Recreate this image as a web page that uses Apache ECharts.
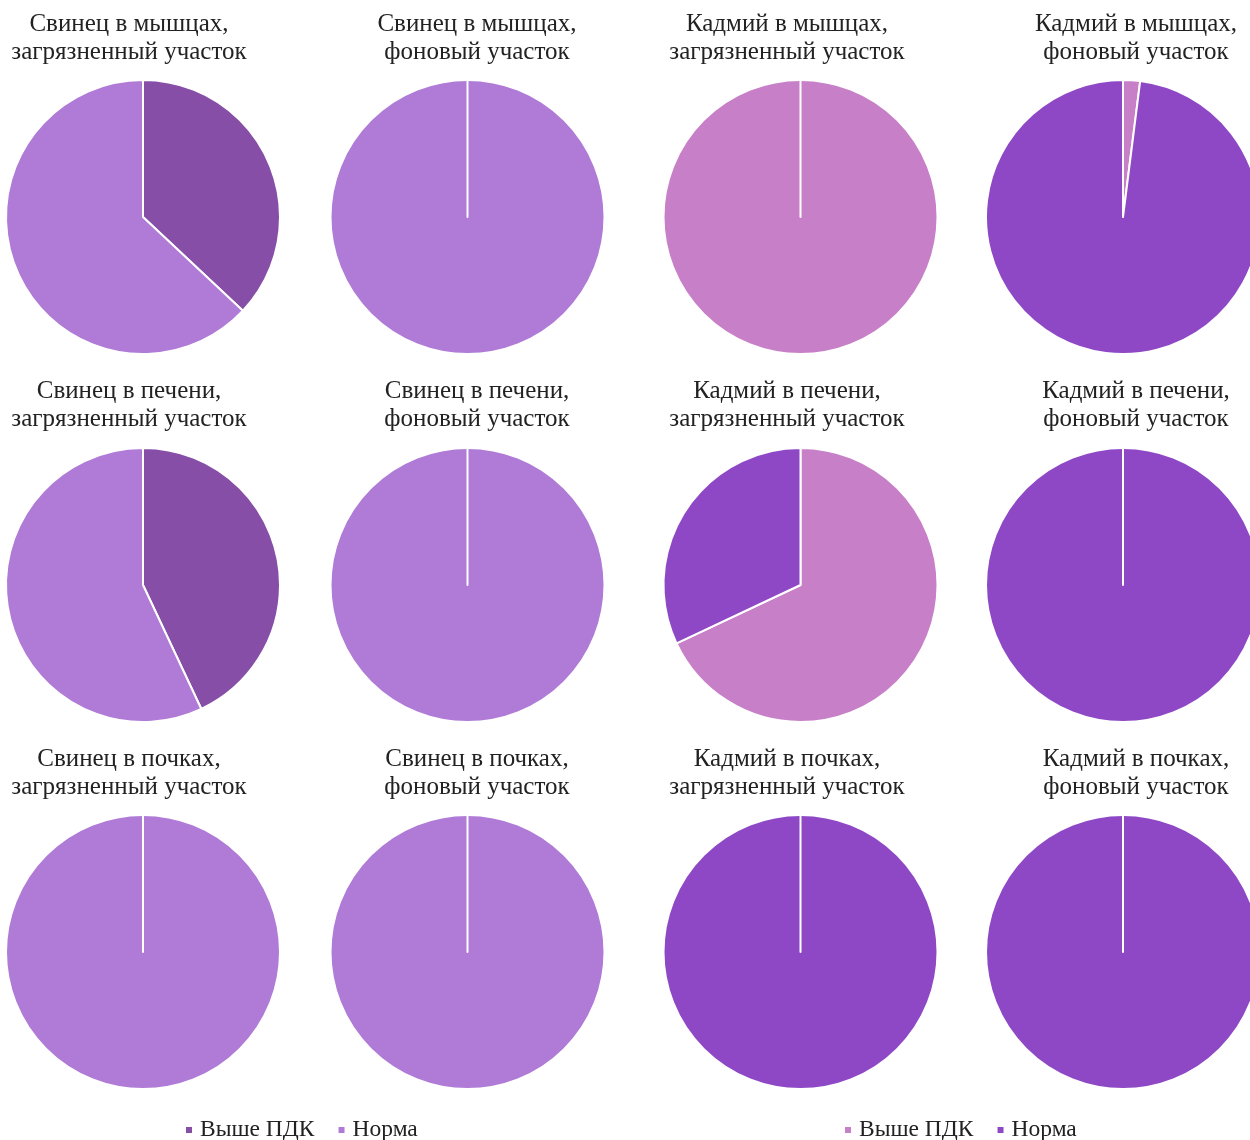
<!DOCTYPE html>
<html>
<head>
<meta charset="utf-8">
<script src="https://cdn.jsdelivr.net/npm/echarts@6/dist/echarts.min.js"></script>
<style>html,body{margin:0;padding:0;background:#fff;}#c{width:1250px;height:1140px;}</style>
</head>
<body>
<div id="c"></div>
<script>
// Titles of the 12 pies (row by row)
const titles = [
  'Свинец в мышцах,\nзагрязненный участок',
  'Свинец в мышцах,\nфоновый участок',
  'Кадмий в мышцах,\nзагрязненный участок',
  'Кадмий в мышцах,\nфоновый участок',
  'Свинец в печени,\nзагрязненный участок',
  'Свинец в печени,\nфоновый участок',
  'Кадмий в печени,\nзагрязненный участок',
  'Кадмий в печени,\nфоновый участок',
  'Свинец в почках,\nзагрязненный участок',
  'Свинец в почках,\nфоновый участок',
  'Кадмий в почках,\nзагрязненный участок',
  'Кадмий в почках,\nфоновый участок'
];
// Metal of each pie: Pb (свинец) or Cd (кадмий)
const metals = ['Pb','Pb','Cd','Cd','Pb','Pb','Cd','Cd','Pb','Pb','Cd','Cd'];
// Share (%) above MPC (Выше ПДК) and normal (Норма)
const abovePDK = [37, 0, 100, 2, 43, 0, 68, 0, 0, 0, 0, 0];
const normal   = [63, 100, 0, 98, 57, 100, 32, 100, 100, 100, 100, 100];
const categories = ['Выше ПДК', 'Норма'];

const colors = {
  Pb: ['#864EA6', '#AF7BD6'],
  Cd: ['#C780C8', '#8E48C5']
};

const colX = [143, 467.5, 800.5, 1123];
const rowY = [217, 585, 952];
const titleX = [129, 477, 787, 1136];
const titleTop = [10, 377, 745];

const font = '"Liberation Serif", "Times New Roman", serif';

const series = [];
const title = [];
for (let i = 0; i < 12; i++) {
  const r = Math.floor(i / 4), c = i % 4;
  const m = metals[i];
  const items = [
    { name: m + '|' + categories[0], value: abovePDK[i], itemStyle: { color: colors[m][0] } },
    { name: m + '|' + categories[1], value: normal[i], itemStyle: { color: colors[m][1] } }
  ];
  // keep the empty slice drawn last so its white edge stays visible
  const zeroFirst = abovePDK[i] === 0;
  series.push({
    type: 'pie',
    center: [colX[c], rowY[r]],
    radius: 137,
    startAngle: 90,
    clockwise: !zeroFirst,
    data: zeroFirst ? [items[1], items[0]] : items,
    label: { show: false },
    labelLine: { show: false },
    silent: true,
    animation: false,
    itemStyle: { borderColor: '#ffffff', borderWidth: 2 }
  });
  title.push({
    text: titles[i],
    left: titleX[c],
    top: titleTop[r],
    padding: 0,
    textAlign: 'center',
    textStyle: { fontFamily: font, fontSize: 25, fontWeight: 'normal', color: '#222', lineHeight: 28 }
  });
}

const legendCommon = {
  orient: 'horizontal',
  icon: 'rect',
  itemWidth: 8,
  itemHeight: 8,
  itemGap: 22,
  top: 1118,
  padding: 0,
  formatter: n => n.split('|')[1],
  textStyle: { fontFamily: font, fontSize: 23.5, color: '#222', padding: [0, 0, 0, 2] },
  selectedMode: false
};

const option = {
  backgroundColor: '#fff',
  title: title,
  legend: [
    Object.assign({}, legendCommon, { left: 184, data: ['Pb|' + categories[0], 'Pb|' + categories[1]] }),
    Object.assign({}, legendCommon, { left: 843, data: ['Cd|' + categories[0], 'Cd|' + categories[1]] })
  ],
  series: series
};

const chart = echarts.init(document.getElementById('c'), null, { renderer: 'canvas' });
chart.setOption(option);
</script>
</body>
</html>
